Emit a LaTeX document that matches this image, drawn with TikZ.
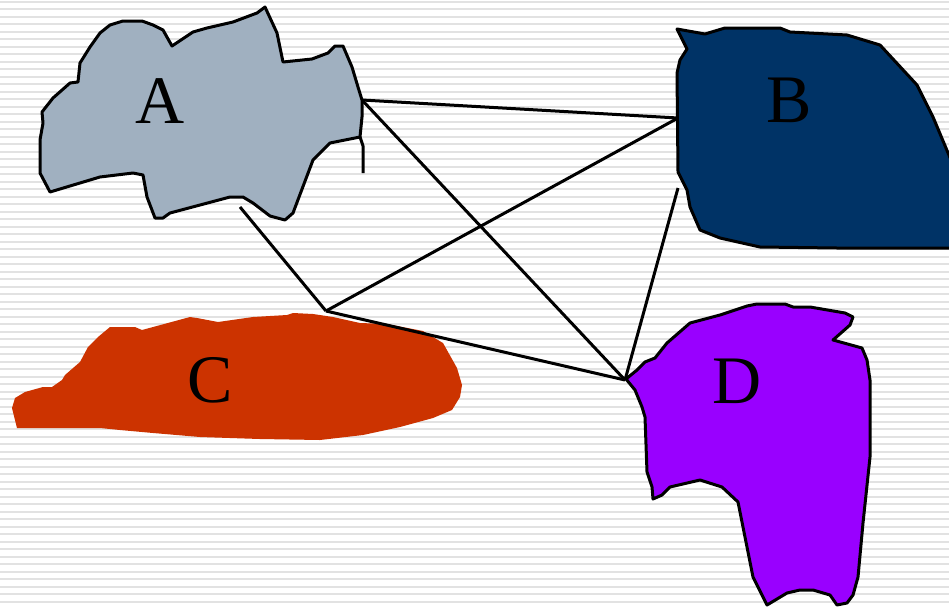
\documentclass[tikz,border=0pt]{standalone}
\usepackage{fontspec}
\setmainfont{Liberation Serif}
\definecolor{regiona}{RGB}{160,176,192}
\definecolor{regionb}{RGB}{0,51,102}
\definecolor{regionc}{RGB}{204,51,0}
\definecolor{regiond}{RGB}{153,0,255}
\definecolor{stripe}{RGB}{226,226,226}
\begin{document}
\begin{tikzpicture}[x=1pt,y=-1pt]
			\tikzstyle{every edge}=[draw,line width=3pt,color=black]
			\tikzstyle{region}=[draw=black,line width=3pt,line join=round]
			\tikzstyle{letter}=[font=\fontsize{68}{68}\selectfont,inner sep=0pt]

			\useasboundingbox (0,0) rectangle (949,608);
			\foreach \i in {0,...,80}
				\draw [stripe, line width=2pt] (0,1.5+7.5*\i) -- (949,1.5+7.5*\i);

			% A
			\draw [region, fill=regiona] (360,137) -- (330,143) -- (313,160) -- (293,213) -- (285,220) -- (270,216) -- (253,203) -- (243,197) -- (230,197) -- (170,213) -- (163,218) -- (155,218) -- (147,197) -- (143,175) -- (133,173) -- (100,177) -- (50,192) -- (40,173) -- (40,140) -- (43,123) -- (42,112) -- (53,98) -- (70,83) -- (78,82) -- (80,63) -- (90,47) -- (100,33) -- (110,25) -- (123,21) -- (142,21) -- (153,25) -- (163,30) -- (172,46) -- (193,32) -- (207,28) -- (233,22) -- (257,13) -- (265,7) -- (277,33) -- (283,62) -- (312,59) -- (328,53) -- (335,46) -- (343,46) -- (352,67) -- (358,87) -- (362,100) -- (362,117) -- cycle;
			\draw [region] (360,137) -- (363,146) -- (363,173);

			% B
			\draw [region, fill=regionb] (677,29) -- (705,34) -- (725,28) -- (780,28) -- (790,32) -- (847,35) -- (880,45) -- (917,85) -- (933,117) -- (951,160) -- (951,248) -- (837,248) -- (760,247) -- (720,238) -- (700,230) -- (690,207) -- (687,190) -- (678,172) -- (677,73) -- (680,60) -- (687,49) -- cycle;

			% C
			\fill [regionc] (12,408) -- (15,398) -- (25,392) -- (43,387) -- (52,387) -- (62,380) -- (65,375) -- (80,362) -- (88,347) -- (98,337) -- (110,327) -- (135,327) -- (142,330) -- (190,317) -- (197,318) -- (218,322) -- (253,317) -- (287,315) -- (293,313) -- (313,314) -- (333,317) -- (360,323) -- (387,324) -- (423,331) -- (443,343) -- (457,368) -- (462,385) -- (460,397) -- (452,410) -- (433,418) -- (400,427) -- (363,435) -- (320,440) -- (260,439) -- (200,437) -- (153,433) -- (120,430) -- (100,428) -- (17,428) -- cycle;

			% D
			\draw [region, fill=regiond] (626,379) -- (637,370) -- (645,362) -- (655,358) -- (667,343) -- (690,323) -- (720,315) -- (747,306) -- (757,304) -- (785,304) -- (793,307) -- (810,307) -- (845,313) -- (853,317) -- (850,325) -- (833,340) -- (862,348) -- (867,360) -- (870,380) -- (870,457) -- (863,523) -- (858,577) -- (853,595) -- (847,603) -- (837,605) -- (830,595) -- (813,590) -- (800,590) -- (787,593) -- (767,605) -- (753,577) -- (738,502) -- (722,487) -- (700,480) -- (670,487) -- (662,495) -- (653,499) -- (652,487) -- (647,472) -- (645,417) -- (642,407) -- (635,390) -- cycle;

			\node (A) at (160,101) [letter] {A};
			\node (B) at (789,100) [letter] {B};
			\node (C) at (210,380) [letter] {C};
			\node (D) at (737,381) [letter] {D};

			\coordinate (aeast) at (362,100);
			\coordinate (asouth) at (240,207);
			\coordinate (bwest) at (678,118);
			\coordinate (bsouth) at (678,188);
			\coordinate (cnorth) at (326,311);
			\coordinate (dwest) at (625,380);

			\path (aeast) edge (bwest);
			\path (aeast) edge (dwest);
			\path (asouth) edge (cnorth);
			\path (cnorth) edge (bwest);
			\path (cnorth) edge (dwest);
			\path (bsouth) edge (dwest);
		\end{tikzpicture}
\end{document}
